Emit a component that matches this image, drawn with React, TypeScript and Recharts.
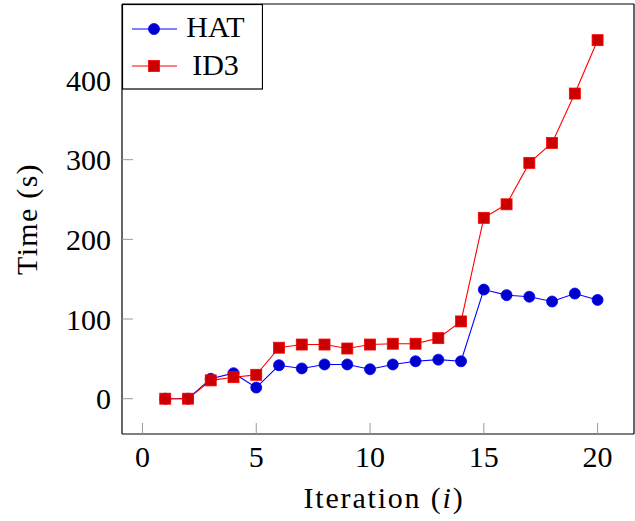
import React from 'react';
import { LineChart, Line, XAxis, YAxis, Legend } from 'recharts';

const iterations = [1, 2, 3, 4, 5, 6, 7, 8, 9, 10, 11, 12, 13, 14, 15, 16, 17, 18, 19, 20];
const hatTimes = [0, 0, 25, 32, 14, 42, 38, 43, 43, 37, 43, 47, 49, 47, 137, 130, 128, 122, 132, 124];
const id3Times = [0, 0, 23, 27, 30, 64, 68, 68, 63, 68, 69, 69, 76, 97, 227, 244, 296, 321, 383, 450];
const xTicks = [0, 5, 10, 15, 20];
const yTicks = [0, 100, 200, 300, 400];
const seriesNames = ['HAT', 'ID3'];

const data = iterations.map((x, i) => ({ x, hat: hatTimes[i], id3: id3Times[i] }));

const FONT = 'Liberation Serif';
const BLUE_LINE = '#0000ff';
const BLUE_FILL = '#0000cc';
const RED_LINE = '#ff0000';
const RED_FILL = '#cc0000';
const TICK_GRAY = '#9a9a9a';

const xDomain: [number, number] = [-0.9, 21.6];
const yDomain: [number, number] = [-44.3, 495.4];

const SquareDot = (props: any) => {
  const { cx, cy } = props;
  if (cx == null || cy == null) return null;
  const s = 11;
  return (
    <rect x={cx - s / 2} y={cy - s / 2} width={s} height={s} fill={RED_FILL} stroke={RED_LINE} strokeWidth={0.8} />
  );
};

const renderLegend = () => (
  <svg width={141} height={86} style={{ display: 'block' }}>
    <rect x={0.5} y={0.5} width={140} height={84.5} fill="#fff" stroke="#000" strokeWidth={1.2} />
    <line x1={10} y1={25} x2={55} y2={25} stroke={BLUE_LINE} strokeWidth={1.1} />
    <circle cx={32} cy={25} r={5.5} fill={BLUE_FILL} stroke={BLUE_LINE} strokeWidth={0.8} />
    <text x={93.5} y={33} textAnchor="middle" fontFamily={FONT} fontSize={30} fill="#000">
      {seriesNames[0]}
    </text>
    <line x1={10} y1={62} x2={55} y2={62} stroke={RED_LINE} strokeWidth={1.1} />
    <rect x={26.5} y={56.5} width={11} height={11} fill={RED_FILL} stroke={RED_LINE} strokeWidth={0.8} />
    <text x={93.5} y={71} textAnchor="middle" fontFamily={FONT} fontSize={30} fill="#000">
      {seriesNames[1]}
    </text>
  </svg>
);

const XLabel = (props: any) => {
  const vb = props.viewBox || {};
  const cx = vb.x + vb.width / 2 + 6;
  const by = vb.y + 74;
  return (
    <text x={cx} y={by} textAnchor="middle" fontFamily={FONT} fontSize={30} fill="#000" letterSpacing={1.8}>
      Iteration (<tspan fontStyle="italic">i</tspan>)
    </text>
  );
};

const YLabel = (props: any) => {
  const vb = props.viewBox || {};
  const cy = vb.y + vb.height / 2;
  const bx = 37;
  return (
    <text x={bx} y={cy} transform={`rotate(-90, ${bx}, ${cy})`} textAnchor="middle" fontFamily={FONT} fontSize={30} fill="#000" letterSpacing={1.3}>
      Time (s)
    </text>
  );
};

const tickStyle = { fill: '#000', fontSize: 30, fontFamily: FONT };

export default function App() {
  return (
    <div style={{ position: 'absolute', left: 0, top: 0 }}>
      <LineChart width={635} height={521} data={data} margin={{ top: 3, right: 0, bottom: 0, left: 0 }}>
        <XAxis
          xAxisId="bottom"
          dataKey="x"
          type="number"
          domain={xDomain}
          ticks={xTicks}
          allowDataOverflow
          height={87}
          tickSize={-11}
          tickMargin={23}
          tick={tickStyle}
          axisLine={{ stroke: '#000', strokeWidth: 1.2 }}
          tickLine={{ stroke: TICK_GRAY, strokeWidth: 1 }}
          label={<XLabel />}
        />
        <XAxis xAxisId="top" orientation="top" type="number" domain={xDomain} ticks={xTicks} allowDataOverflow height={1} tickSize={-11} tick={false}
          axisLine={{ stroke: '#000', strokeWidth: 1.2 }} tickLine={{ stroke: TICK_GRAY, strokeWidth: 1 }} />
        <YAxis
          yAxisId="left"
          type="number"
          domain={yDomain}
          ticks={yTicks}
          allowDataOverflow
          width={122}
          tickSize={-11}
          tickMargin={22}
          tick={tickStyle}
          axisLine={{ stroke: '#000', strokeWidth: 1.2 }}
          tickLine={{ stroke: TICK_GRAY, strokeWidth: 1 }}
          label={<YLabel />}
        />
        <YAxis yAxisId="right" orientation="right" type="number" domain={yDomain} ticks={yTicks} allowDataOverflow width={1} tickSize={-11} tick={false}
          axisLine={{ stroke: '#000', strokeWidth: 1.2 }} tickLine={{ stroke: TICK_GRAY, strokeWidth: 1 }} />
        <Line xAxisId="bottom" yAxisId="left" type="linear" dataKey="hat" name={seriesNames[0]} stroke={BLUE_LINE} strokeWidth={1.1}
          dot={{ r: 5.5, fill: BLUE_FILL, stroke: BLUE_LINE, strokeWidth: 0.8 }} activeDot={false} isAnimationActive={false} />
        <Line xAxisId="bottom" yAxisId="left" type="linear" dataKey="id3" name={seriesNames[1]} stroke={RED_LINE} strokeWidth={1.1}
          dot={<SquareDot />} activeDot={false} isAnimationActive={false} />
        <Legend layout="horizontal" verticalAlign="middle" align="center" content={renderLegend}
          wrapperStyle={{ left: 122, top: 4, width: 141, height: 86 }} />
      </LineChart>
    </div>
  );
}
